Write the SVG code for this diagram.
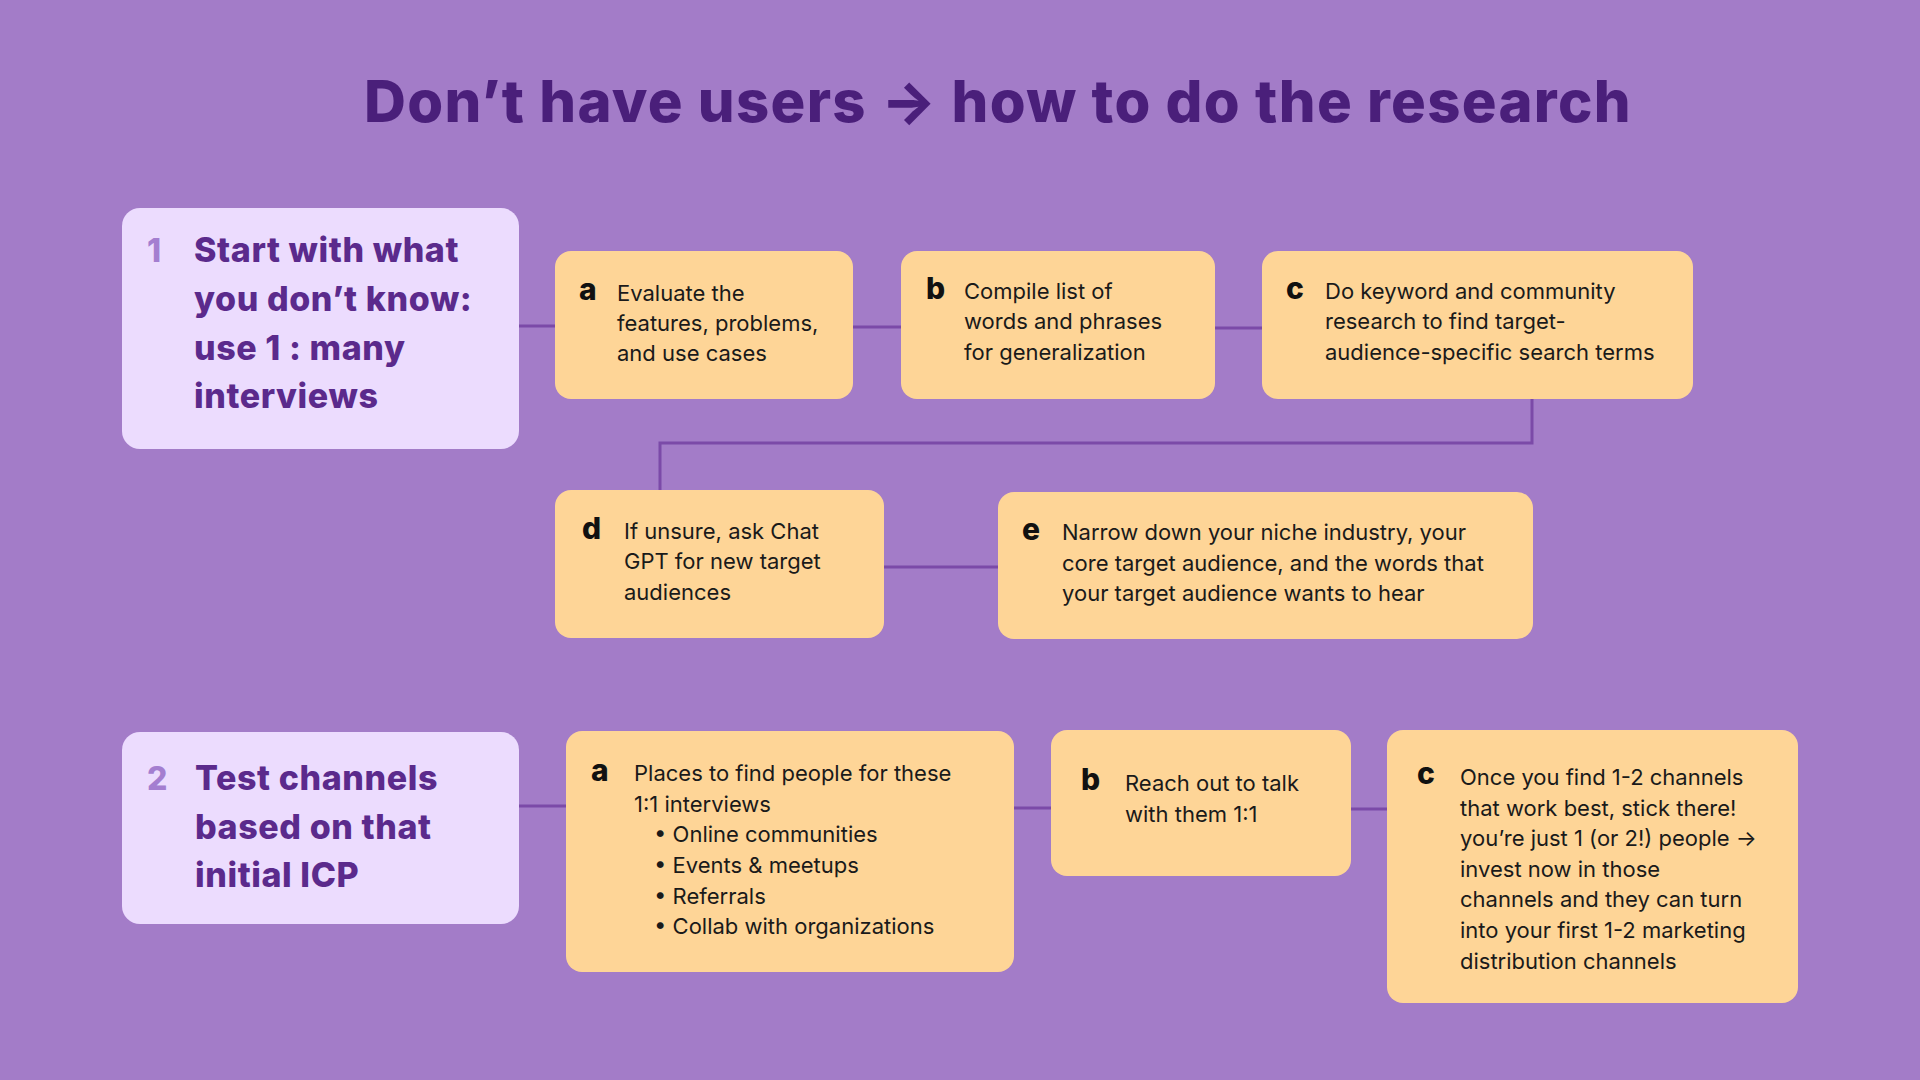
<svg xmlns="http://www.w3.org/2000/svg" width="1920" height="1080" viewBox="0 0 1920 1080">
<style>
.t{font-family:Inter,"Noto Sans",sans-serif;font-weight:800;fill:#4a1f7a;letter-spacing:1.3px}
.h{font-family:Inter,"Noto Sans",sans-serif;font-weight:800;font-size:34px;fill:#5b2a8c;letter-spacing:0.6px}
.n{font-family:Inter,"Noto Sans",sans-serif;font-weight:800;font-size:32px;fill:#a47ed0}
.l{font-family:Inter,"Noto Sans",sans-serif;font-weight:800;font-size:30px;fill:#111}
.b{font-family:Inter,"Noto Sans",sans-serif;font-size:22px;fill:#1a1a1a}
.big{fill:#ecdcfe}
.box{fill:#fed597}
.c{stroke:#7b4aa8;stroke-width:3;fill:none}
</style>
<rect width="1920" height="1080" fill="#a37cc8"/>
<text class="t" x="998" y="122" font-size="58" text-anchor="middle">Don’t have users → how to do the research</text>
<g id="connectors">
<path class="c" d="M519 326H555M853 327H901M1215 328H1262M1532 399V443H660V490M884 567H998M519 806H566M1014 808H1051M1351 809H1387"/>
</g>
<g id="step1"><rect class="big" x="122" y="208" width="397" height="241" rx="18"/>
<text class="n" x="147" y="262">1</text>
<text class="h" x="194"><tspan x="194" y="262">Start with what</tspan><tspan x="194" y="311">you don’t know:</tspan><tspan x="194" y="360">use 1 : many</tspan><tspan x="194" y="408">interviews</tspan></text></g>
<g id="s1a"><rect class="box" x="555" y="251" width="298" height="148" rx="16"/>
<text class="l" x="579" y="300">a</text>
<text class="b"><tspan x="617" y="301">Evaluate the</tspan><tspan x="617" y="331">features, problems,</tspan><tspan x="617" y="361">and use cases</tspan></text></g>
<g id="s1b"><rect class="box" x="901" y="251" width="314" height="148" rx="16"/>
<text class="l" x="926" y="299">b</text>
<text class="b"><tspan x="964" y="299">Compile list of</tspan><tspan x="964" y="329">words and phrases</tspan><tspan x="964" y="360">for generalization</tspan></text></g>
<g id="s1c"><rect class="box" x="1262" y="251" width="431" height="148" rx="16"/>
<text class="l" x="1286" y="299">c</text>
<text class="b"><tspan x="1325" y="299">Do keyword and community</tspan><tspan x="1325" y="329">research to find target-</tspan><tspan x="1325" y="360">audience-specific search terms</tspan></text></g>
<g id="s1d"><rect class="box" x="555" y="490" width="329" height="148" rx="16"/>
<text class="l" x="582" y="539">d</text>
<text class="b"><tspan x="624" y="539">If unsure, ask Chat</tspan><tspan x="624" y="569">GPT for new target</tspan><tspan x="624" y="600">audiences</tspan></text></g>
<g id="s1e"><rect class="box" x="998" y="492" width="535" height="147" rx="16"/>
<text class="l" x="1022" y="540">e</text>
<text class="b"><tspan x="1062" y="540">Narrow down your niche industry, your</tspan><tspan x="1062" y="571">core target audience, and the words that</tspan><tspan x="1062" y="601">your target audience wants to hear</tspan></text></g>
<g id="step2"><rect class="big" x="122" y="732" width="397" height="192" rx="18"/>
<text class="n" x="147" y="790">2</text>
<text class="h"><tspan x="195" y="790">Test channels</tspan><tspan x="195" y="839">based on that</tspan><tspan x="195" y="887">initial ICP</tspan></text></g>
<g id="s2a"><rect class="box" x="566" y="731" width="448" height="241" rx="16"/>
<text class="l" x="591" y="781">a</text>
<text class="b"><tspan x="634" y="781">Places to find people for these</tspan><tspan x="634" y="812">1:1 interviews</tspan><tspan x="654" y="842">•  Online communities</tspan><tspan x="654" y="873">•  Events &amp; meetups</tspan><tspan x="654" y="904">•  Referrals</tspan><tspan x="654" y="934">•  Collab with organizations</tspan></text></g>
<g id="s2b"><rect class="box" x="1051" y="730" width="300" height="146" rx="16"/>
<text class="l" x="1081" y="790">b</text>
<text class="b"><tspan x="1125" y="791">Reach out to talk</tspan><tspan x="1125" y="822">with them 1:1</tspan></text></g>
<g id="s2c"><rect class="box" x="1387" y="730" width="411" height="273" rx="16"/>
<text class="l" x="1417" y="784">c</text>
<text class="b"><tspan x="1460" y="785">Once you find 1-2 channels</tspan><tspan x="1460" y="816">that work best, stick there!</tspan><tspan x="1460" y="846">you’re just 1 (or 2!) people →</tspan><tspan x="1460" y="877">invest now in those</tspan><tspan x="1460" y="907">channels and they can turn</tspan><tspan x="1460" y="938">into your first 1-2 marketing</tspan><tspan x="1460" y="969">distribution channels</tspan></text></g>
</svg>
